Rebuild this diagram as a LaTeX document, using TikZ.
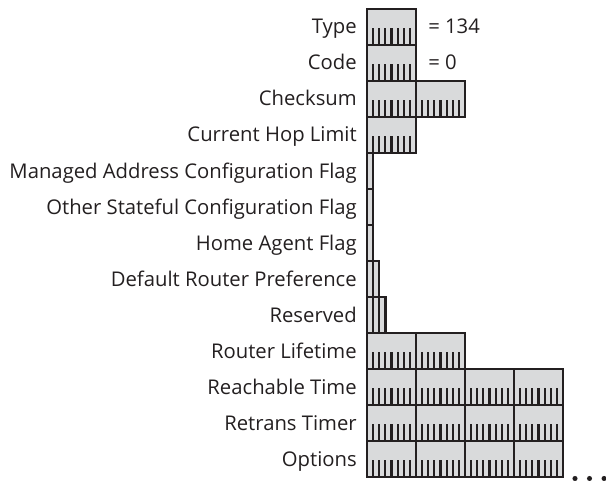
\documentclass[tikz,border=0pt]{standalone}
\usepackage{fontspec}
\setmainfont{Open Sans}
\usetikzlibrary{positioning}
\definecolor{fieldgray}{HTML}{D9DADB}
\definecolor{fieldink}{HTML}{231F20}

\begin{document}
\begin{tikzpicture}[x=0.75pt, y=-0.75pt,
    fieldbase/.style={draw=fieldink, fill=fieldgray, line width=1.7pt,
                      minimum height=27pt, inner sep=0pt, outer sep=0pt,
                      anchor=north west},
    bytefield/.style={fieldbase, minimum width=#1*36.75pt,
      path picture={
        \pgfmathtruncatemacro\nticks{8*#1-1}
        \foreach \k in {1,...,\nticks} {
          \pgfmathtruncatemacro\m{mod(\k,8)}
          \ifnum\m=0
            \draw[fieldink, line width=1.7pt]
              ([xshift=\k*4.594pt]path picture bounding box.south west) -- ++(0pt,27pt);
          \else
            \draw[fieldink, line width=1.6pt]
              ([xshift=\k*4.594pt]path picture bounding box.south west) -- ++(0pt,12.8pt);
          \fi
        }
      }},
    bitfield/.style={fieldbase, minimum width=#1*4.594pt,
      path picture={
        \foreach \k in {1,...,#1} {
          \draw[fieldink, line width=1.6pt]
            ([xshift=\k*4.594pt]path picture bounding box.south west) -- ++(0pt,27pt);
        }
      }},
    fieldlabel/.style={font=\fontsize{15.2}{18}\selectfont, text=fieldink,
                       inner sep=0pt, text height=11.5pt, text depth=1pt},
    morefields/.style={circle, fill=fieldink, inner sep=0pt, minimum size=3.8pt}
  ]
    \useasboundingbox (0,0) rectangle (606,481);

    % fields, one row per field
    \node[bytefield=1] (type) at (367,9) {};
    \node[bytefield=1, at=(type.south west)] (code) {};
    \node[bytefield=2, at=(code.south west)] (checksum) {};
    \node[bytefield=1, at=(checksum.south west)] (hoplimit) {};
    \node[bitfield=1, at=(hoplimit.south west)] (mflag) {};
    \node[bitfield=1, at=(mflag.south west)] (oflag) {};
    \node[bitfield=1, at=(oflag.south west)] (hflag) {};
    \node[bitfield=2, at=(hflag.south west)] (prf) {};
    \node[bitfield=3, at=(prf.south west)] (reserved) {};
    \node[bytefield=2, at=(reserved.south west)] (lifetime) {};
    \node[bytefield=4, at=(lifetime.south west)] (reachable) {};
    \node[bytefield=4, at=(reachable.south west)] (retrans) {};
    \node[bytefield=4, at=(retrans.south west)] (options) {};

    % field names
    \node[fieldlabel, left=7.5pt of type.west] (typelbl) {Type};
    \node[fieldlabel, left=7.5pt of code.west] (codelbl) {Code};
    \node[fieldlabel, left=7.5pt of checksum.west] (checksumlbl) {Checksum};
    \node[fieldlabel, left=7.5pt of hoplimit.west] (hoplimitlbl) {Current Hop Limit};
    \node[fieldlabel, left=7.5pt of mflag.west] (mflaglbl) {Managed Address Configuration Flag};
    \node[fieldlabel, left=7.5pt of oflag.west] (oflaglbl) {Other Stateful Configuration Flag};
    \node[fieldlabel, left=7.5pt of hflag.west] (hflaglbl) {Home Agent Flag};
    \node[fieldlabel, left=7.5pt of prf.west] (prflbl) {Default Router Preference};
    \node[fieldlabel, left=7.5pt of reserved.west] (reservedlbl) {Reserved};
    \node[fieldlabel, left=7.5pt of lifetime.west] (lifetimelbl) {Router Lifetime};
    \node[fieldlabel, left=7.5pt of reachable.west] (reachablelbl) {Reachable Time};
    \node[fieldlabel, left=7.5pt of retrans.west] (retranslbl) {Retrans Timer};
    \node[fieldlabel, left=7.5pt of options.west] (optionslbl) {Options};

    % values
    \node[fieldlabel, right=9pt of type.east] (typeval) {= 134};
    \node[fieldlabel, right=9pt of code.east] (codeval) {= 0};

    % more options follow
    \node[morefields, above right=-2.6pt and 7.5pt of options.south east] (more1) {};
    \node[morefields, right=6.7pt of more1] (more2) {};
    \node[morefields, right=6.7pt of more2] (more3) {};
\end{tikzpicture}
\end{document}
